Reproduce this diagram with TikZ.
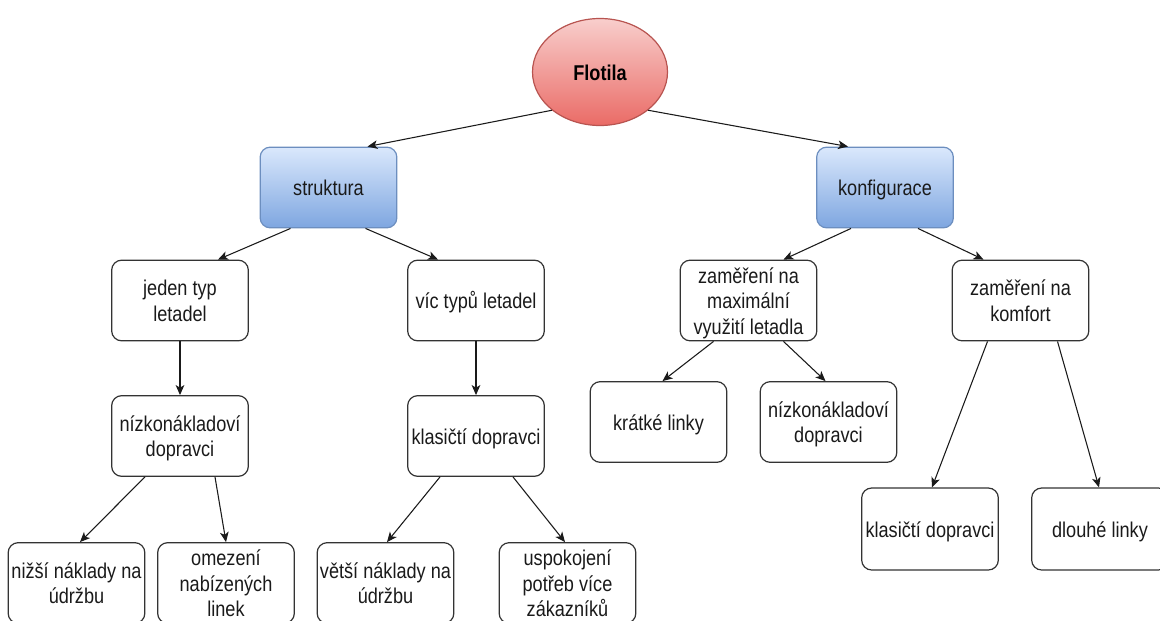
\documentclass[tikz,border=0pt]{standalone}
\usepackage{fontspec}
\setmainfont{Liberation Sans}
\usepackage{graphicx}
\usetikzlibrary{shapes.geometric,arrows.meta,calc}

\definecolor{ink}{HTML}{1A1A1A}
\definecolor{boxline}{HTML}{333333}
\definecolor{blueline}{HTML}{6C8EBF}
\definecolor{bluetop}{HTML}{DAE8FC}
\definecolor{bluebot}{HTML}{7EA6E0}
\definecolor{redline}{HTML}{B85450}
\definecolor{redtop}{HTML}{F8CECC}
\definecolor{redbot}{HTML}{EA6B66}

% slightly tall, centred multi-line label, set a little low in its box
\newcommand{\lbl}[1]{\raisebox{-2.2pt}[\height][\depth]{\scalebox{1}[1.18]{\begin{tabular}{@{}c@{}}#1\end{tabular}}}}

\begin{document}
\begin{tikzpicture}[x=0.75pt,y=-0.75pt,
  tbox/.style={draw=boxline, line width=0.9pt, rounded corners=7.5pt, fill=white,
    minimum width=102.5pt, minimum height=60.5pt, inner sep=0pt, text=ink,
    font=\fontsize{13.6}{16.2}\selectfont},
  topbox/.style={tbox, draw=blueline, top color=bluetop, bottom color=bluebot},
  rootnode/.style={ellipse, draw=redline, line width=0.9pt, top color=redtop, bottom color=redbot,
    minimum width=101.25pt, minimum height=80.25pt, inner sep=0pt, text=black,
    font=\fontsize{13.6}{16.2}\selectfont\bfseries},
  conn/.style={draw=ink, line width=0.8pt, -{Stealth[length=7.5pt,width=6.5pt,inset=2pt]}},
]
\fill[white] (0,0) rectangle (1160,621);
\useasboundingbox (0,0) rectangle (1160,621);

% root and the two main branches
\node[rootnode] (root) at (600,72) {\lbl{Flotila}};
\node[topbox] (s) at (328.5,187.5) {\lbl{struktura}};
\node[topbox] (k) at (885,187.5) {\lbl{konfigurace}};

% structure branch
\node[tbox] (j)  at (180,300.5) {\lbl{jeden typ\\letadel}};
\node[tbox] (v)  at (476,300.5) {\lbl{víc typů letadel}};
\node[tbox] (n1) at (180,436) {\lbl{nízkonákladoví\\dopravci}};
\node[tbox] (c1) at (476,436) {\lbl{klasičtí dopravci}};
\node[tbox] (a)  at (76.5,583) {\lbl{nižší náklady na\\údržbu}};
\node[tbox] (b)  at (226,583) {\lbl{omezení\\nabízených\\linek}};
\node[tbox] (c)  at (385.5,583) {\lbl{větší náklady na\\údržbu}};
\node[tbox] (d)  at (567.5,583) {\lbl{uspokojení\\potřeb více\\zákazníků}};

% configuration branch
\node[tbox] (m)  at (748.5,300.5) {\lbl{zaměření na\\maximální\\využití letadla}};
\node[tbox] (f)  at (1020.5,300.5) {\lbl{zaměření na\\komfort}};
\node[tbox] (kr) at (658.5,422) {\lbl{krátké linky}};
\node[tbox] (n2) at (828.5,422) {\lbl{nízkonákladoví\\dopravci}};
\node[tbox, minimum height=61.5pt] (c2) at (930,529) {\lbl{klasičtí dopravci}};
\node[tbox, minimum height=61.5pt] (dl) at (1100,529) {\lbl{dlouhé linky}};

% connectors
\draw[conn] (root.south west) -- ($(s.north)+(39,0)$);
\draw[conn] (root.south east) -- ($(k.north)+(-37,0)$);

\draw[conn] ($(s.south)+(-38,0)$) -- ($(j.north)+(38,0)$);
\draw[conn] ($(s.south)+(37,0)$) -- ($(v.north)+(-38,0)$);
\draw[conn] (j.south) -- (n1.north);
\draw[conn] (v.south) -- (c1.north);
\draw[conn] ($(n1.south)+(-35,0)$) -- ($(a.north)+(3.5,0)$);
\draw[conn] ($(n1.south)+(35,0)$) -- (b.north);
\draw[conn] ($(c1.south)+(-36,0)$) -- ($(c.north)+(1.5,0)$);
\draw[conn] ($(c1.south)+(37,0)$) -- ($(d.north)+(-2.5,0)$);

\draw[conn] ($(k.south)+(-34,0)$) -- ($(m.north)+(35,0)$);
\draw[conn] ($(k.south)+(33,0)$) -- ($(f.north)+(-37,0)$);
\draw[conn] ($(m.south)+(-35,0)$) -- ($(kr.north)+(4,0)$);
\draw[conn] ($(m.south)+(35,0)$) -- ($(n2.north)+(-3,0)$);
\draw[conn] ($(f.south)+(-33,0)$) -- ($(c2.north)+(2,0)$);
\draw[conn] ($(f.south)+(37,0)$) -- ($(dl.north)+(-1,0)$);
\end{tikzpicture}
\end{document}
